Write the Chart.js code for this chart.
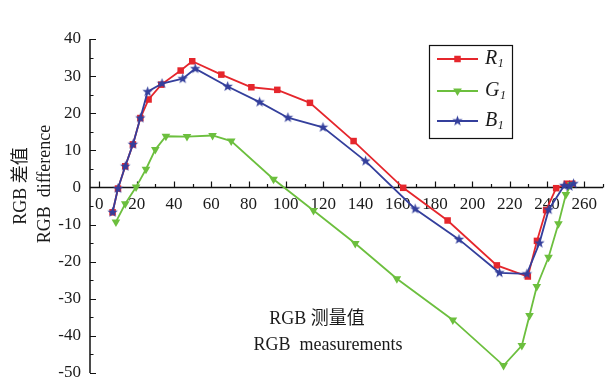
<!DOCTYPE html>
<html>
<head>
<meta charset="utf-8">
<script src="https://cdn.jsdelivr.net/npm/chart.js@4"></script>
<style>
  html, body { margin: 0; padding: 0; background: #fff; }
  #wrap { width: 616px; height: 383px; position: relative; }
</style>
</head>
<body>
<div id="wrap"><canvas id="chart"></canvas></div>
<script>
// values
const rX = [7.1, 10.0, 13.9, 18.0, 22.0, 26.4, 33.2, 43.6, 49.8, 65.4, 81.5, 95.4, 112.9, 136.3, 162.9, 186.7, 213.1, 229.7, 234.6, 239.5, 244.9, 250.6, 253.5];
const rY = [-6.7, -0.3, 5.7, 11.6, 18.7, 23.7, 27.7, 31.5, 34.0, 30.4, 27.0, 26.3, 22.8, 12.5, -0.1, -8.9, -21.0, -24.0, -14.4, -6.1, -0.2, 1.0, 1.0];

const gX = [8.9, 13.9, 19.7, 25.0, 30.0, 35.7, 47.0, 60.7, 70.7, 93.4, 114.8, 137.2, 159.5, 189.5, 216.7, 226.5, 230.6, 234.5, 240.8, 246.1, 250.1, 253.0];
const gY = [-9.3, -4.4, 0.1, 4.9, 10.2, 13.8, 13.7, 14.0, 12.5, 2.2, -6.2, -15.1, -24.6, -35.7, -48.0, -42.6, -34.5, -26.7, -18.8, -9.8, -1.9, 0.8];

const bX = [7.1, 10.0, 13.9, 18.0, 22.0, 25.9, 33.6, 44.7, 51.4, 68.8, 85.9, 101.1, 119.9, 142.7, 169.3, 192.8, 214.5, 229.2, 235.9, 240.9, 249.2, 252.0, 254.2];
const bY = [-6.7, -0.3, 5.7, 11.6, 18.7, 25.8, 28.0, 29.3, 32.0, 27.2, 23.0, 18.8, 16.2, 7.1, -5.8, -14.0, -23.0, -23.3, -15.0, -6.0, 0.5, 0.3, 1.0];

const xTicks = [0, 20, 40, 60, 80, 100, 120, 140, 160, 180, 200, 220, 240, 260];
const yTicks = [-50, -40, -30, -20, -10, 0, 10, 20, 30, 40];

const seriesNames = ['R', 'G', 'B'];

const RED = '#e5262c';
const GREEN = '#6cbf3e';
const BLUE = '#343f9c';
const SERIF = '"Liberation Serif", "DejaVu Serif", serif';
const CJK = '"Liberation Serif", "Noto Sans CJK SC", serif';

// filled five point star used as the B marker
function makeStar(color, r) {
    const c = document.createElement('canvas');
    const s = Math.ceil(r * 2 + 2);
    c.width = s; c.height = s;
    const g = c.getContext('2d');
    g.fillStyle = color;
    g.beginPath();
    for (let i = 0; i < 10; i++) {
        const rad = i % 2 === 0 ? r : r * 0.42;
        const a = -Math.PI / 2 + i * Math.PI / 5;
        const px = s / 2 + rad * Math.cos(a);
        const py = s / 2 + rad * Math.sin(a);
        if (i === 0) g.moveTo(px, py); else g.lineTo(px, py);
    }
    g.closePath();
    g.fill();
    return c;
}
const starImg = makeStar(BLUE, 5.5);

const toPts = (xs, ys) => xs.map((v, i) => ({ x: v, y: ys[i] }));

// axis lines and inward tick marks
const axesPlugin = {
    id: 'axesLines',
    beforeDatasetsDraw(chart) {
        const { ctx, chartArea, scales: { x, y } } = chart;
        const y0 = y.getPixelForValue(0);
        ctx.save();
        ctx.strokeStyle = '#111';
        ctx.lineWidth = 1.5;
        ctx.beginPath();
        ctx.moveTo(chartArea.left, chartArea.top);
        ctx.lineTo(chartArea.left, chartArea.bottom);
        ctx.moveTo(chartArea.left, y0);
        ctx.lineTo(chartArea.right, y0);
        ctx.stroke();
        ctx.lineWidth = 1.2;
        ctx.beginPath();
        for (let v = -50; v <= 40; v += 5) {
            const p = Math.round(y.getPixelForValue(v)) + 0.5;
            const len = v % 10 === 0 ? 6 : 3.5;
            ctx.moveTo(chartArea.left, p);
            ctx.lineTo(chartArea.left + len, p);
        }
        for (let v = 0; v <= 270; v += 10) {
            const p = Math.round(x.getPixelForValue(v)) + 0.5;
            const len = v % 20 === 0 ? 6 : 3.5;
            ctx.moveTo(p, y0);
            ctx.lineTo(p, y0 - len);
        }
        ctx.stroke();
        ctx.restore();
    }
};

// titles and the boxed legend
const textPlugin = {
    id: 'titles',
    afterDraw(chart) {
        const ctx = chart.ctx;
        ctx.save();
        ctx.fillStyle = '#1a1a1a';
        ctx.textAlign = 'center';
        ctx.textBaseline = 'middle';
        ctx.font = '18px ' + CJK;
        ctx.fillText('RGB 测量值', 317, 319);
        ctx.fillText('RGB  measurements', 328, 345);

        ctx.save();
        ctx.translate(21, 186);
        ctx.rotate(-Math.PI / 2);
        ctx.fillText('RGB 差值', 0, 0);
        ctx.restore();
        ctx.save();
        ctx.translate(45, 184);
        ctx.rotate(-Math.PI / 2);
        ctx.fillText('RGB  difference', 0, 0);
        ctx.restore();

        // legend
        const bx = 429.5, by = 45.5, bw = 83, bh = 93;
        ctx.strokeStyle = '#111';
        ctx.lineWidth = 1.2;
        ctx.strokeRect(bx, by, bw, bh);
        const rows = [59, 91, 121];
        chart.data.datasets.forEach((ds, i) => {
            const ry = rows[i];
            ctx.strokeStyle = ds.borderColor;
            ctx.fillStyle = ds.borderColor;
            ctx.lineWidth = 2;
            ctx.beginPath();
            ctx.moveTo(437, ry);
            ctx.lineTo(478, ry);
            ctx.stroke();
            Chart.helpers.drawPoint(ctx, {
                pointStyle: ds.pointStyle,
                radius: ds.pointRadius,
                rotation: ds.pointRotation || 0,
                borderWidth: 0
            }, 457.5, ry);
            ctx.fillStyle = '#1a1a1a';
            ctx.textAlign = 'left';
            ctx.font = 'italic 20px ' + SERIF;
            ctx.fillText(seriesNames[i], 485, ry);
            const w = ctx.measureText(seriesNames[i]).width;
            ctx.font = 'italic 12px ' + SERIF;
            ctx.fillText('1', 485 + w + 0.5, ry + 5);
        });
        ctx.restore();
    }
};

const ctxEl = document.getElementById('chart').getContext('2d');
new Chart(ctxEl, {
    type: 'scatter',
    data: {
        datasets: [
            {
                label: 'R1',
                data: toPts(rX, rY),
                showLine: true,
                borderColor: RED,
                backgroundColor: RED,
                borderWidth: 1.8,
                pointStyle: 'rect',
                pointRadius: 4.6,
                pointBorderWidth: 0,
                pointBackgroundColor: RED,
                order: 3
            },
            {
                label: 'G1',
                data: toPts(gX, gY),
                showLine: true,
                borderColor: GREEN,
                backgroundColor: GREEN,
                borderWidth: 1.8,
                pointStyle: 'triangle',
                pointRotation: 180,
                pointRadius: 5,
                pointBorderWidth: 0,
                pointBackgroundColor: GREEN,
                order: 2
            },
            {
                label: 'B1',
                data: toPts(bX, bY),
                showLine: true,
                borderColor: BLUE,
                backgroundColor: BLUE,
                borderWidth: 1.8,
                pointStyle: starImg,
                pointRadius: 5,
                pointBorderWidth: 0,
                order: 1
            }
        ]
    },
    options: {
        responsive: true,
        maintainAspectRatio: false,
        animation: false,
        layout: { padding: { left: 0, top: 39, right: 13, bottom: 10 } },
        plugins: {
            legend: { display: false },
            tooltip: { enabled: false }
        },
        elements: { line: { tension: 0 } },
        scales: {
            x: {
                type: 'linear',
                min: -5,
                max: 270,
                position: { y: 0 },
                afterBuildTicks: s => { s.ticks = xTicks.map(v => ({ value: v })); },
                afterFit: s => { s.paddingLeft = 0; s.paddingRight = 0; },
                grid: { display: false, drawTicks: false },
                border: { display: false },
                ticks: {
                    padding: 7,
                    color: '#1a1a1a',
                    maxRotation: 0,
                    autoSkip: false,
                    font: { family: SERIF, size: 17 }
                }
            },
            y: {
                type: 'linear',
                min: -50,
                max: 40,
                position: 'left',
                afterFit: s => { s.width = 90; s.paddingTop = 0; s.paddingBottom = 0; },
                afterBuildTicks: s => { s.ticks = yTicks.map(v => ({ value: v })); },
                grid: { display: false, drawTicks: false },
                border: { display: false },
                ticks: {
                    padding: 9,
                    color: '#1a1a1a',
                    font: { family: SERIF, size: 17 }
                }
            }
        }
    },
    plugins: [axesPlugin, textPlugin]
});
</script>
</body>
</html>
